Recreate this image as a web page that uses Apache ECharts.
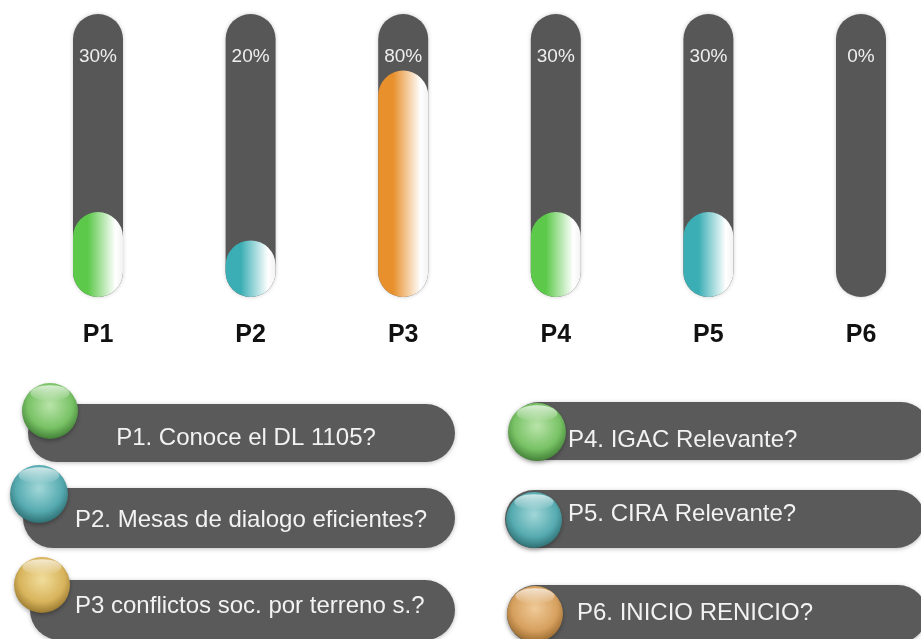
<!DOCTYPE html>
<html>
<head>
<meta charset="utf-8">
<script src="https://cdn.jsdelivr.net/npm/echarts@6/dist/echarts.min.js"></script>
<style>
html,body{margin:0;padding:0;background:#fff;}
#chart{width:921px;height:639px;}
</style>
</head>
<body>
<div id="chart"></div>
<script>
// ---- data ----
const categories = ['P1', 'P2', 'P3', 'P4', 'P5', 'P6'];
const values = [30, 20, 80, 30, 30, 0];
const maxValue = 100;
const questions = [
  'P1. Conoce el DL 1105?',
  'P2. Mesas de dialogo eficientes?',
  'P3 conflictos soc. por terreno s.?',
  'P4. IGAC Relevante?',
  'P5. CIRA Relevante?',
  'P6. INICIO RENICIO?'
];

// ---- styles ----
const fillColors = ['#5cc94a', '#3aaeb4', '#e8902c', '#5cc94a', '#3aaeb4', '#e8902c'];
const sphereColors = [
  ['#b9e4aa', '#78c265', '#3d7a33'],
  ['#a2d7d9', '#56abb0', '#2a6a6e'],
  ['#f1dd9c', '#d8b45c', '#94742c'],
  ['#b9e4aa', '#78c265', '#3d7a33'],
  ['#a2d7d9', '#56abb0', '#2a6a6e'],
  ['#f0ca98', '#d6a05e', '#94662c']
];
const pillBoxes = [
  {x: 28, y: 404, w: 427, h: 58},
  {x: 23, y: 488, w: 432, h: 60},
  {x: 30, y: 580, w: 425, h: 60},
  {x: 510, y: 402, w: 420, h: 58},
  {x: 505, y: 490, w: 420, h: 58},
  {x: 507, y: 585, w: 420, h: 58}
];
const spheres = [
  {cx: 50, cy: 411, r: 28},
  {cx: 39, cy: 494, r: 29},
  {cx: 42, cy: 585, r: 28},
  {cx: 537, cy: 432, r: 29},
  {cx: 534, cy: 520, r: 28},
  {cx: 535, cy: 614, r: 28}
];
const textPos = [
  {x: 246, y: 438, align: 'center'},
  {x: 75, y: 520, align: 'left'},
  {x: 75, y: 606, align: 'left'},
  {x: 568, y: 440, align: 'left'},
  {x: 568, y: 514, align: 'left'},
  {x: 577, y: 613, align: 'left'}
];

const chart = echarts.init(document.getElementById('chart'));

function fillGradient(c) {
  return new echarts.graphic.LinearGradient(0, 0, 1, 0, [
    {offset: 0, color: c},
    {offset: 0.3, color: c},
    {offset: 0.85, color: '#ffffff'},
    {offset: 1, color: '#f2f2f2'}
  ]);
}

const graphics = [];
pillBoxes.forEach((b, i) => {
  graphics.push({
    type: 'rect', z: 10,
    shape: {x: b.x, y: b.y, width: b.w, height: b.h, r: b.h / 2},
    style: {fill: '#5a5a5a', shadowBlur: 4, shadowColor: 'rgba(0,0,0,0.25)', shadowOffsetY: 1}
  });
});
spheres.forEach((s, i) => {
  const c = sphereColors[i];
  graphics.push({
    type: 'circle', z: 11,
    shape: {cx: s.cx, cy: s.cy, r: s.r},
    style: {
      fill: new echarts.graphic.RadialGradient(0.5, 0.4, 0.62, [
        {offset: 0, color: c[0]},
        {offset: 0.65, color: c[1]},
        {offset: 1, color: c[2]}
      ]),
      shadowBlur: 4, shadowColor: 'rgba(0,0,0,0.3)', shadowOffsetY: 2
    }
  });
  graphics.push({
    type: 'ellipse', z: 12,
    shape: {cx: s.cx, cy: s.cy - s.r * 0.64, rx: s.r * 0.7, ry: s.r * 0.28},
    style: {
      fill: new echarts.graphic.LinearGradient(0, 0, 0, 1, [
        {offset: 0, color: 'rgba(255,255,255,0.7)'},
        {offset: 1, color: 'rgba(255,255,255,0.0)'}
      ])
    }
  });
});
questions.forEach((q, i) => {
  const p = textPos[i];
  graphics.push({
    type: 'text', z: 13,
    x: p.x, y: p.y,
    style: {
      text: q,
      fill: '#f2f2f2',
      font: '24px "Liberation Sans", Arial, sans-serif',
      align: p.align,
      verticalAlign: 'middle'
    }
  });
});

chart.setOption({
  backgroundColor: '#ffffff',
  animation: false,
  grid: {left: 98, right: 60, top: 14, bottom: 342, containLabel: false},
  xAxis: {
    type: 'category',
    data: categories,
    boundaryGap: false,
    axisLine: {show: false},
    axisTick: {show: false},
    splitLine: {show: false},
    axisLabel: {
      margin: 26,
      fontSize: 25,
      fontWeight: 'bold',
      color: '#111111',
      fontFamily: '"Liberation Sans", Arial, sans-serif'
    }
  },
  yAxis: {type: 'value', min: 0, max: maxValue, show: false, splitLine: {show: false}},
  series: [
    {
      type: 'bar',
      clip: false,
      barWidth: 50,
      z: 2,
      data: categories.map(() => maxValue),
      itemStyle: {
        color: '#575757',
        borderRadius: 25,
        shadowBlur: 4,
        shadowColor: 'rgba(0,0,0,0.2)'
      },
      label: {
        show: true,
        position: 'insideTop',
        distance: 33,
        color: '#eeeeee',
        fontSize: 19,
        fontFamily: '"Liberation Sans", Arial, sans-serif',
        formatter: (p) => values[p.dataIndex] + '%'
      },
      silent: true
    },
    {
      type: 'bar',
      clip: false,
      barWidth: 50,
      barGap: '-100%',
      z: 3,
      data: values.map((v, i) => ({
        value: v,
        itemStyle: {color: fillGradient(fillColors[i])}
      })),
      itemStyle: {borderRadius: 25}
    }
  ],
  graphic: graphics
});
</script>
</body>
</html>
